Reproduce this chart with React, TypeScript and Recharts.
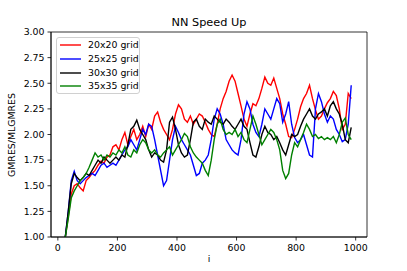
import React from 'react';
import { LineChart, Line, XAxis, YAxis, Legend, ReferenceArea } from 'recharts';

const ITER = [25, 35, 45, 55, 65, 75, 85, 95, 105, 115, 125, 135, 145, 155, 165, 175, 185, 195, 205, 215, 225, 235, 245, 255, 265, 275, 285, 295, 305, 315, 325, 335, 345, 355, 365, 375, 385, 395, 405, 415, 425, 435, 445, 455, 465, 475, 485, 495, 505, 515, 525, 535, 545, 555, 565, 575, 585, 595, 605, 615, 625, 635, 645, 655, 665, 675, 685, 695, 705, 715, 725, 735, 745, 755, 765, 775, 785, 795, 805, 815, 825, 835, 845, 855, 865, 875, 885, 895, 905, 915, 925, 935, 945, 955, 965, 975, 985];

const GRID20 = [1.00, 1.20, 1.42, 1.50, 1.52, 1.48, 1.45, 1.55, 1.58, 1.62, 1.65, 1.70, 1.74, 1.72, 1.78, 1.80, 1.88, 1.90, 1.85, 1.95, 2.02, 1.90, 1.98, 2.05, 1.95, 2.00, 2.08, 1.98, 2.10, 2.05, 2.18, 2.22, 2.12, 2.05, 2.00, 1.95, 2.05, 2.20, 2.29, 2.25, 2.15, 2.12, 2.18, 2.10, 2.15, 2.20, 2.18, 2.12, 2.05, 2.00, 1.98, 2.10, 2.25, 2.35, 2.42, 2.52, 2.58, 2.52, 2.40, 2.28, 2.15, 2.08, 2.20, 2.30, 2.28, 2.35, 2.45, 2.56, 2.50, 2.48, 2.55, 2.45, 2.35, 2.20, 2.10, 1.98, 1.97, 2.05, 2.15, 2.27, 2.35, 2.40, 2.48, 2.35, 2.24, 2.15, 2.18, 2.25, 2.31, 2.35, 2.42, 2.38, 2.25, 2.05, 2.10, 2.40, 2.35];

const GRID25 = [1.00, 1.25, 1.55, 1.64, 1.55, 1.52, 1.55, 1.58, 1.60, 1.62, 1.60, 1.65, 1.70, 1.72, 1.68, 1.70, 1.72, 1.70, 1.75, 1.80, 1.85, 1.88, 1.95, 1.90, 1.85, 1.95, 2.05, 2.00, 2.10, 2.08, 1.95, 1.80, 1.65, 1.50, 1.55, 1.75, 1.95, 2.08, 2.02, 1.95, 1.90, 1.85, 1.80, 1.70, 1.60, 1.62, 1.72, 1.75, 1.80, 1.95, 2.15, 2.25, 2.20, 2.10, 1.95, 1.90, 1.85, 1.82, 1.80, 1.95, 2.20, 2.32, 2.25, 2.10, 2.02, 1.98, 2.10, 2.25, 2.20, 2.15, 2.25, 2.35, 2.30, 2.12, 2.20, 2.32, 2.10, 1.97, 1.92, 1.95, 2.00, 1.90, 1.80, 1.78, 2.25, 2.40, 2.32, 2.20, 2.12, 2.18, 2.15, 2.05, 2.00, 1.93, 1.95, 2.10, 2.48];

const GRID30 = [1.00, 1.25, 1.52, 1.62, 1.58, 1.55, 1.58, 1.62, 1.60, 1.65, 1.70, 1.75, 1.72, 1.78, 1.75, 1.72, 1.75, 1.78, 1.75, 1.80, 1.78, 1.90, 2.05, 2.08, 2.14, 2.05, 2.00, 1.95, 1.85, 1.78, 1.82, 1.80, 1.75, 1.73, 1.85, 2.12, 2.17, 2.05, 1.90, 1.82, 1.78, 1.80, 1.95, 2.12, 2.15, 2.08, 2.05, 2.15, 2.12, 2.10, 2.18, 2.15, 2.12, 2.10, 2.15, 2.12, 2.08, 2.05, 2.10, 2.15, 2.08, 2.05, 1.92, 1.80, 1.78, 1.88, 2.00, 2.08, 2.02, 2.00, 1.95, 1.98, 1.92, 1.85, 1.80, 1.90, 2.00, 1.98, 2.00, 2.08, 2.15, 2.20, 2.25, 2.18, 2.15, 2.20, 2.22, 2.25, 2.18, 2.28, 2.32, 2.25, 2.20, 2.10, 1.95, 1.92, 2.07];

const GRID35 = [1.00, 1.18, 1.38, 1.45, 1.50, 1.55, 1.58, 1.62, 1.68, 1.75, 1.82, 1.78, 1.80, 1.75, 1.80, 1.78, 1.82, 1.80, 1.85, 1.82, 1.88, 1.80, 1.78, 1.85, 1.82, 1.90, 1.95, 1.92, 1.85, 1.82, 1.85, 1.80, 1.78, 1.82, 1.85, 1.88, 1.80, 1.85, 1.90, 1.95, 2.01, 1.98, 1.88, 1.82, 1.78, 1.75, 1.72, 1.65, 1.60, 1.75, 1.95, 2.10, 2.15, 2.05, 2.00, 2.02, 2.00, 2.05, 1.98, 2.02, 1.95, 1.92, 2.05, 2.18, 2.10, 2.00, 1.90, 1.95, 2.00, 2.05, 2.02, 1.95, 1.85, 1.65, 1.57, 1.62, 1.80, 1.92, 1.88, 1.95, 2.02, 2.10, 2.05, 1.98, 2.00, 1.96, 1.98, 1.95, 1.97, 1.95, 1.98, 1.92, 2.00, 2.12, 2.16, 2.00, 1.95];

const X_TICKS = [0, 200, 400, 600, 800, 1000];
const Y_TICKS = [1.0, 1.25, 1.5, 1.75, 2.0, 2.25, 2.5, 2.75, 3.0];
const X_DOMAIN: [number, number] = [-23, 1038];
const Y_DOMAIN: [number, number] = [1, 3];

const SERIES = [
  { key: 'g20', name: '20x20 grid', color: '#ff0000', values: GRID20 },
  { key: 'g25', name: '25x25 grid', color: '#0000ff', values: GRID25 },
  { key: 'g30', name: '30x30 grid', color: '#000000', values: GRID30 },
  { key: 'g35', name: '35x35 grid', color: '#008000', values: GRID35 },
];

const TITLE = 'NN Speed Up';
const X_LABEL = 'i';
const Y_LABEL = 'GMRES/MLGMRES';

const data = ITER.map((it, k) => {
  const row: Record<string, number> = { i: it };
  SERIES.forEach((s) => {
    row[s.key] = s.values[k];
  });
  return row;
});

const FONT = 'DejaVu Sans, sans-serif';

const LegendBox = () => (
  <div
    style={{
      width: 84,
      height: 57,
      boxSizing: 'border-box',
      border: '1px solid #d0d0d0',
      borderRadius: 3,
      background: 'rgba(255,255,255,0.8)',
      position: 'relative',
      fontFamily: FONT,
      fontSize: 9.4,
      color: '#000',
    }}
  >
    {SERIES.map((s, idx) => (
      <div
        key={s.key}
        style={{ position: 'absolute', left: 2, top: 1 + idx * 13.8, height: 12, display: 'flex', alignItems: 'center' }}
      >
        <svg width={22} height={12} style={{ display: 'block' }}>
          <line x1={1} y1={6} x2={22} y2={6} stroke={s.color} strokeWidth={1.4} />
        </svg>
        <span style={{ marginLeft: 7, whiteSpace: 'nowrap', lineHeight: '12px' }}>{s.name}</span>
      </div>
    ))}
  </div>
);

const textBase: React.CSSProperties = {
  position: 'absolute',
  fontFamily: FONT,
  color: '#000',
  whiteSpace: 'nowrap',
  lineHeight: 1,
};

export default function App() {
  const tickStyle = { fontFamily: FONT, fontSize: 9.4, fill: '#000' };
  return (
    <div style={{ position: 'absolute', left: 0, top: 0, width: 407, height: 271, background: '#fff' }}>
      <LineChart width={407} height={271} data={data} margin={{ top: 32, right: 40, bottom: 0, left: 0 }}>
        <XAxis
          dataKey="i"
          type="number"
          domain={X_DOMAIN}
          ticks={X_TICKS}
          allowDataOverflow
          height={34}
          tickSize={3.5}
          tickMargin={4}
          tick={tickStyle}
          stroke="#000"
          strokeWidth={0.8}
          tickLine={{ stroke: '#000', strokeWidth: 0.8 }}
        />
        <YAxis
          type="number"
          domain={Y_DOMAIN}
          ticks={Y_TICKS}
          allowDataOverflow
          width={51}
          tickSize={3.5}
          tickMargin={3}
          tick={tickStyle}
          tickFormatter={(v: number) => v.toFixed(2)}
          stroke="#000"
          strokeWidth={0.8}
          tickLine={{ stroke: '#000', strokeWidth: 0.8 }}
        />
        <ReferenceArea
          x1={X_DOMAIN[0]}
          x2={X_DOMAIN[1]}
          y1={Y_DOMAIN[0]}
          y2={Y_DOMAIN[1]}
          fill="none"
          fillOpacity={0}
          stroke="#000"
          strokeWidth={0.8}
          ifOverflow="visible"
        />
        {SERIES.map((s) => (
          <Line
            key={s.key}
            dataKey={s.key}
            name={s.name}
            type="linear"
            stroke={s.color}
            strokeWidth={1.4}
            dot={false}
            activeDot={false}
            isAnimationActive={false}
          />
        ))}
        <Legend
          layout="horizontal"
          verticalAlign="middle"
          align="center"
          wrapperStyle={{ left: 56, top: 37, width: 84, height: 57 }}
          content={() => <LegendBox />}
        />
      </LineChart>
      <div style={{ ...textBase, left: 209, top: 17, fontSize: 11.3, transform: 'translateX(-50%)' }}>{TITLE}</div>
      <div style={{ ...textBase, left: 209, top: 254, fontSize: 9.4, transform: 'translateX(-50%)' }}>{X_LABEL}</div>
      <div
        style={{
          ...textBase,
          left: 12,
          top: 134.5,
          fontSize: 9.4,
          transform: 'translate(-50%, -50%) rotate(-90deg)',
        }}
      >
        {Y_LABEL}
      </div>
    </div>
  );
}
